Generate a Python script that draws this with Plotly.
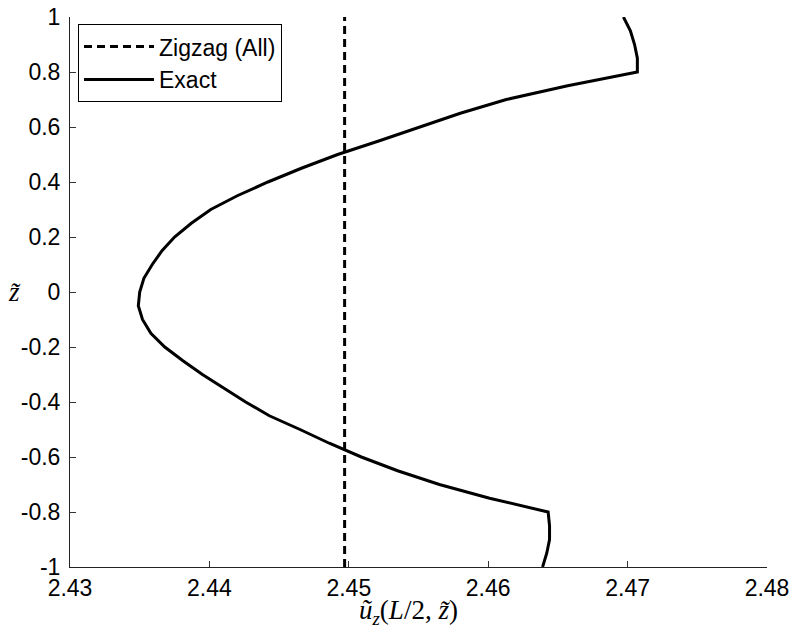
import plotly.graph_objects as go

# Exact solution: z-tilde vs u_z(L/2, z-tilde)
z_exact = [-1.0, -0.95, -0.9, -0.85, -0.8, -0.75, -0.7, -0.65, -0.6, -0.55, -0.5,
           -0.45, -0.4, -0.35, -0.3, -0.25, -0.2, -0.15, -0.1, -0.05, 0.0,
           0.05, 0.1, 0.15, 0.2, 0.25, 0.3, 0.35, 0.4, 0.45, 0.5,
           0.55, 0.6, 0.65, 0.7, 0.75, 0.8, 0.85, 0.9, 0.95, 1.0]
u_exact = [2.4639, 2.4642, 2.4644, 2.4644, 2.4643, 2.4601, 2.4565, 2.4535, 2.4509, 2.4486, 2.4465,
           2.4443, 2.4426, 2.4410, 2.4395, 2.4381, 2.4368, 2.4358, 2.4352, 2.4349, 2.4350,
           2.4353, 2.4359, 2.4366, 2.4375, 2.4387, 2.4401, 2.4420, 2.4442, 2.4466, 2.4492,
           2.4522, 2.4551, 2.4580, 2.4613, 2.4657, 2.4707, 2.4707, 2.4705, 2.4702, 2.4697]

# Zigzag (All): constant through thickness
z_zigzag = [-1.0, 1.0]
u_zigzag = [2.4497, 2.4497]

x_ticks = [2.43, 2.44, 2.45, 2.46, 2.47, 2.48]
x_ticktext = ["2.43", "2.44", "2.45", "2.46", "2.47", "2.48"]
y_ticks = [-1, -0.8, -0.6, -0.4, -0.2, 0, 0.2, 0.4, 0.6, 0.8, 1]
y_ticktext = ["-1", "-0.8", "-0.6", "-0.4", "-0.2", "0", "0.2", "0.4", "0.6", "0.8", "1"]

fig = go.Figure()
fig.add_trace(go.Scatter(x=u_zigzag, y=z_zigzag, mode="lines", name="Zigzag (All)",
                         line=dict(color="black", width=3, dash="8px,5px")))
fig.add_trace(go.Scatter(x=u_exact, y=z_exact, mode="lines", name="Exact",
                         line=dict(color="black", width=3)))

font_main = "Liberation Sans, Arial, sans-serif"
fig.update_layout(
    width=789, height=626,
    margin=dict(l=62, r=30, t=9, b=67),
    paper_bgcolor="white", plot_bgcolor="white",
    font=dict(family=font_main, size=23, color="black"),
    showlegend=True,
    legend=dict(x=0.0115, y=0.987, xanchor="left", yanchor="top",
                bordercolor="black", borderwidth=1, bgcolor="white",
                font=dict(family=font_main, size=23, color="black"),
                itemwidth=70, tracegroupgap=0),
    xaxis=dict(range=[2.43, 2.48], tickvals=x_ticks, ticktext=x_ticktext,
               ticks="inside", ticklen=6, tickcolor="#333", showgrid=False,
               zeroline=False, showline=True, linecolor="#222", linewidth=1,
               tickfont=dict(size=23), ticklabelstandoff=0, automargin=False,
               ticklabeloverflow="allow"),
    yaxis=dict(range=[-1, 1], tickvals=y_ticks, ticktext=y_ticktext,
               ticks="inside", ticklen=6, tickcolor="#333", showgrid=False,
               zeroline=False, showline=True, linecolor="#222", linewidth=1,
               tickfont=dict(size=23), ticklabelstandoff=4, automargin=False,
               ticklabeloverflow="allow"),
    annotations=[
        dict(text="<i>ũ</i><sub><i>z</i></sub>(<i>L</i>/2, <i>z̃</i>)", xref="paper", yref="paper",
             x=0.485, y=-0.082, xanchor="center", yanchor="middle", showarrow=False,
             font=dict(family="Liberation Serif, Times New Roman, serif", size=27, color="black")),
        dict(text="<i>z̃</i>", xref="paper", yref="paper",
             x=-0.079, y=0.5, xanchor="center", yanchor="middle", showarrow=False,
             font=dict(family="Liberation Serif, Times New Roman, serif", size=27, color="black")),
    ],
)

fig.write_html("out.html")
